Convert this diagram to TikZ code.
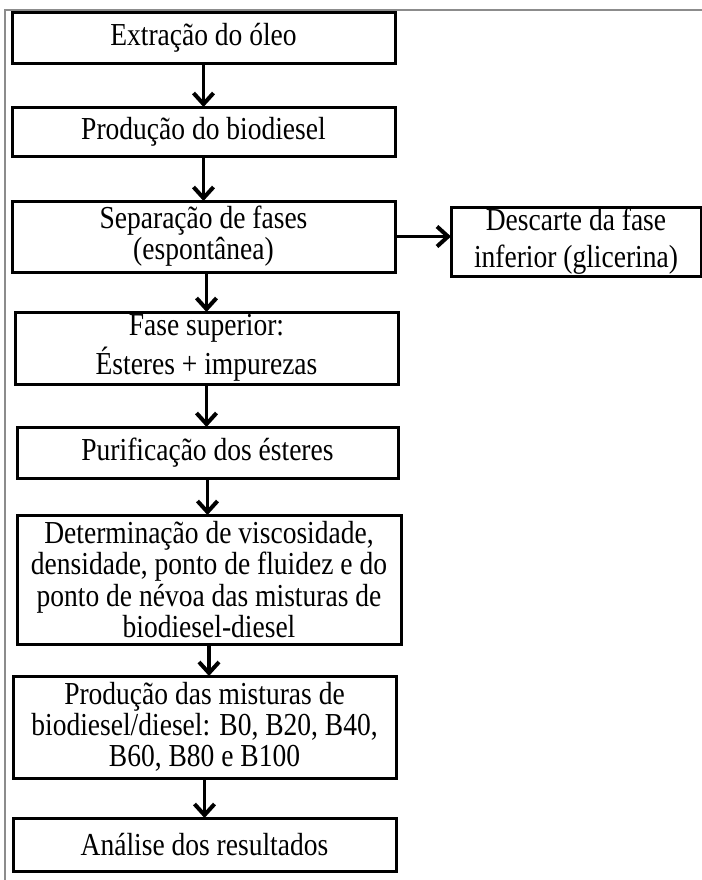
\documentclass[tikz,border=0pt]{standalone}
\usepackage{fontspec}
\setmainfont{Liberation Serif}[FakeStretch=0.86]
\usetikzlibrary{arrows.meta}
\begin{document}
\begin{tikzpicture}[x=0.5pt,y=-0.5pt,
  box/.style={draw, line width=1.5pt, inner sep=0pt, outer sep=0pt, align=center,
    font=\fontsize{16}{15.6}\selectfont, minimum width=191.5pt},
  arr/.style={line width=1.7pt, -{Straight Barb[length=5.5pt,width=10pt,line width=2pt]}},
  frame/.style={draw=black!45, line width=0.8pt}]
\useasboundingbox (0,0) rectangle (702,880);
\draw[frame] (702,10) -- (5,10) -- (5,880);
\node[box, minimum height=25.5pt] (b1) at (203.5,37.5) {Extração do óleo};
\node[box, minimum height=24.5pt] (b2) at (203.5,131.5) {Produção do biodiesel};
\node[box, minimum height=35.5pt] (b3) at (203.5,236.5) {Separação de fases\\(espontânea)};
\node[box, minimum height=34.5pt, minimum width=125pt] (r) at (576,241.5) {Descarte da fase\\[3pt]inferior (glicerina)};
\node[box, minimum height=36pt] (b4) at (206.5,348) {Fase superior:\\[1.5pt]Ésteres + impurezas};
\node[box, minimum height=25.5pt, minimum width=190.5pt] (b5) at (207.5,452.5) {Purificação dos ésteres};
\node[box, minimum height=64.5pt, minimum width=192pt] (b6) at (209,579.5) {Determinação de viscosidade,\\densidade, ponto de fluidez e do\\ponto de névoa das misturas de\\biodiesel-diesel};
\node[box, minimum height=51pt] (b7) at (204.5,727) {Produção das misturas de\\biodiesel/diesel: B0, B20, B40,\\B60, B80 e B100};
\node[box, minimum height=26.5pt] (b8) at (204.5,844.5) {Análise dos resultados};
\draw[arr] (b1.south) -- (b1.south |- b2.north);
\draw[arr] (b2.south) -- (b2.south |- b3.north);
\draw[arr] (b3.east) -- (b3.east -| r.west);
\draw[arr] (b3.south -| b4.north) -- (b4.north);
\draw[arr] (b4.south) -- (b4.south |- b5.north);
\draw[arr] (b5.south) -- (b5.south |- b6.north);
\draw[arr] (b6.south) -- (b6.south |- b7.north);
\draw[arr] (b7.south) -- (b7.south |- b8.north);
\end{tikzpicture}
\end{document}
